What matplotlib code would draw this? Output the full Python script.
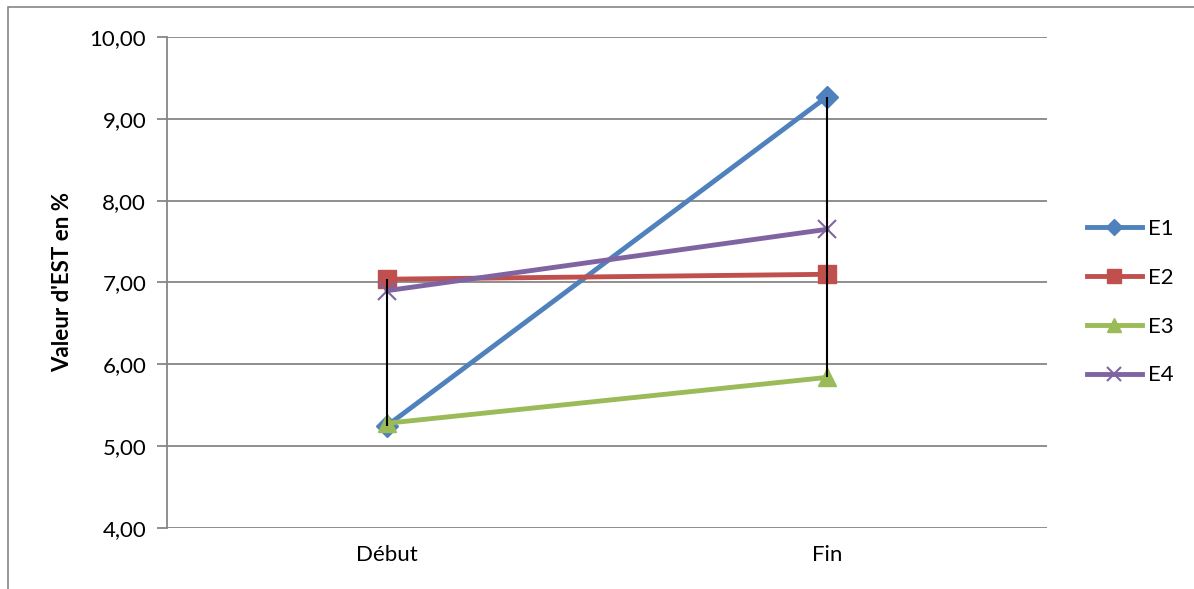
import matplotlib
matplotlib.use('Agg')
import matplotlib.pyplot as plt
from matplotlib.patches import Rectangle
from matplotlib.ticker import FuncFormatter

# Valeurs d'EST (%) par élève, début et fin
categories = ['Début', 'Fin']
e1 = [5.25, 9.27]
e2 = [7.04, 7.10]
e3 = [5.28, 5.84]
e4 = [6.90, 7.65]
series_names = ['E1', 'E2', 'E3', 'E4']

plt.rcParams['font.family'] = ['Lato', 'DejaVu Sans']

fig = plt.figure(figsize=(11.94, 5.89), dpi=100)
ax = fig.add_axes([0.1399, 0.1036, 0.737, 0.8336])

# cadre gris autour du graphique
fig.patches.append(Rectangle((8 / 1194, -0.1), 1.2, 1 - 7 / 589 + 0.1,
                             transform=fig.transFigure, fill=False,
                             edgecolor='#868686', linewidth=1.2))

x = list(range(len(categories)))
styles = [
    (e1, '#4F81BD', 'D', 11),
    (e2, '#C0504D', 's', 13),
    (e3, '#9BBB59', '^', 13),
    (e4, '#8064A2', 'x', 13),
]
for (vals, color, marker, ms), name in zip(styles, series_names):
    kw = dict(markeredgewidth=1.5) if marker == 'x' else dict(markeredgecolor=color)
    ax.plot(x, vals, color=color, linewidth=3.5, marker=marker, markersize=ms,
            markerfacecolor=color, label=name, zorder=3, **kw)

# lignes haut-bas
all_series = [e1, e2, e3, e4]
for i in x:
    col = [s[i] for s in all_series]
    ax.vlines(i, min(col), max(col), color='black', linewidth=1.5, zorder=4)

ax.set_xlim(-0.5, 1.5)
ax.set_ylim(4, 10)
ax.set_yticks([4, 5, 6, 7, 8, 9, 10])
ax.yaxis.set_major_formatter(FuncFormatter(lambda v, p: f'{v:.2f}'.replace('.', ',')))
ax.set_xticks(x)
ax.set_xticklabels(categories)
ax.grid(axis='y', color='#868686', linewidth=1.3)
ax.set_axisbelow(True)

for side in ['top', 'right', 'bottom']:
    ax.spines[side].set_visible(False)
ax.spines['left'].set_color('#868686')
ax.spines['left'].set_linewidth(1.3)
ax.tick_params(axis='y', length=7, width=1.3, color='#868686', labelsize=16, pad=8)
ax.tick_params(axis='x', length=0, labelsize=16, pad=12)

ax.set_ylabel("Valeur d'EST en %", fontsize=16, fontweight='bold', labelpad=12)

ax.legend(loc='center left', bbox_to_anchor=(1.045, 0.46), frameon=False,
          fontsize=16, handlelength=2.5, labelspacing=1.3, handletextpad=0.25,
          borderpad=0, borderaxespad=0, markerscale=0.75)

plt.savefig('out.png', dpi=100)
plt.close()
